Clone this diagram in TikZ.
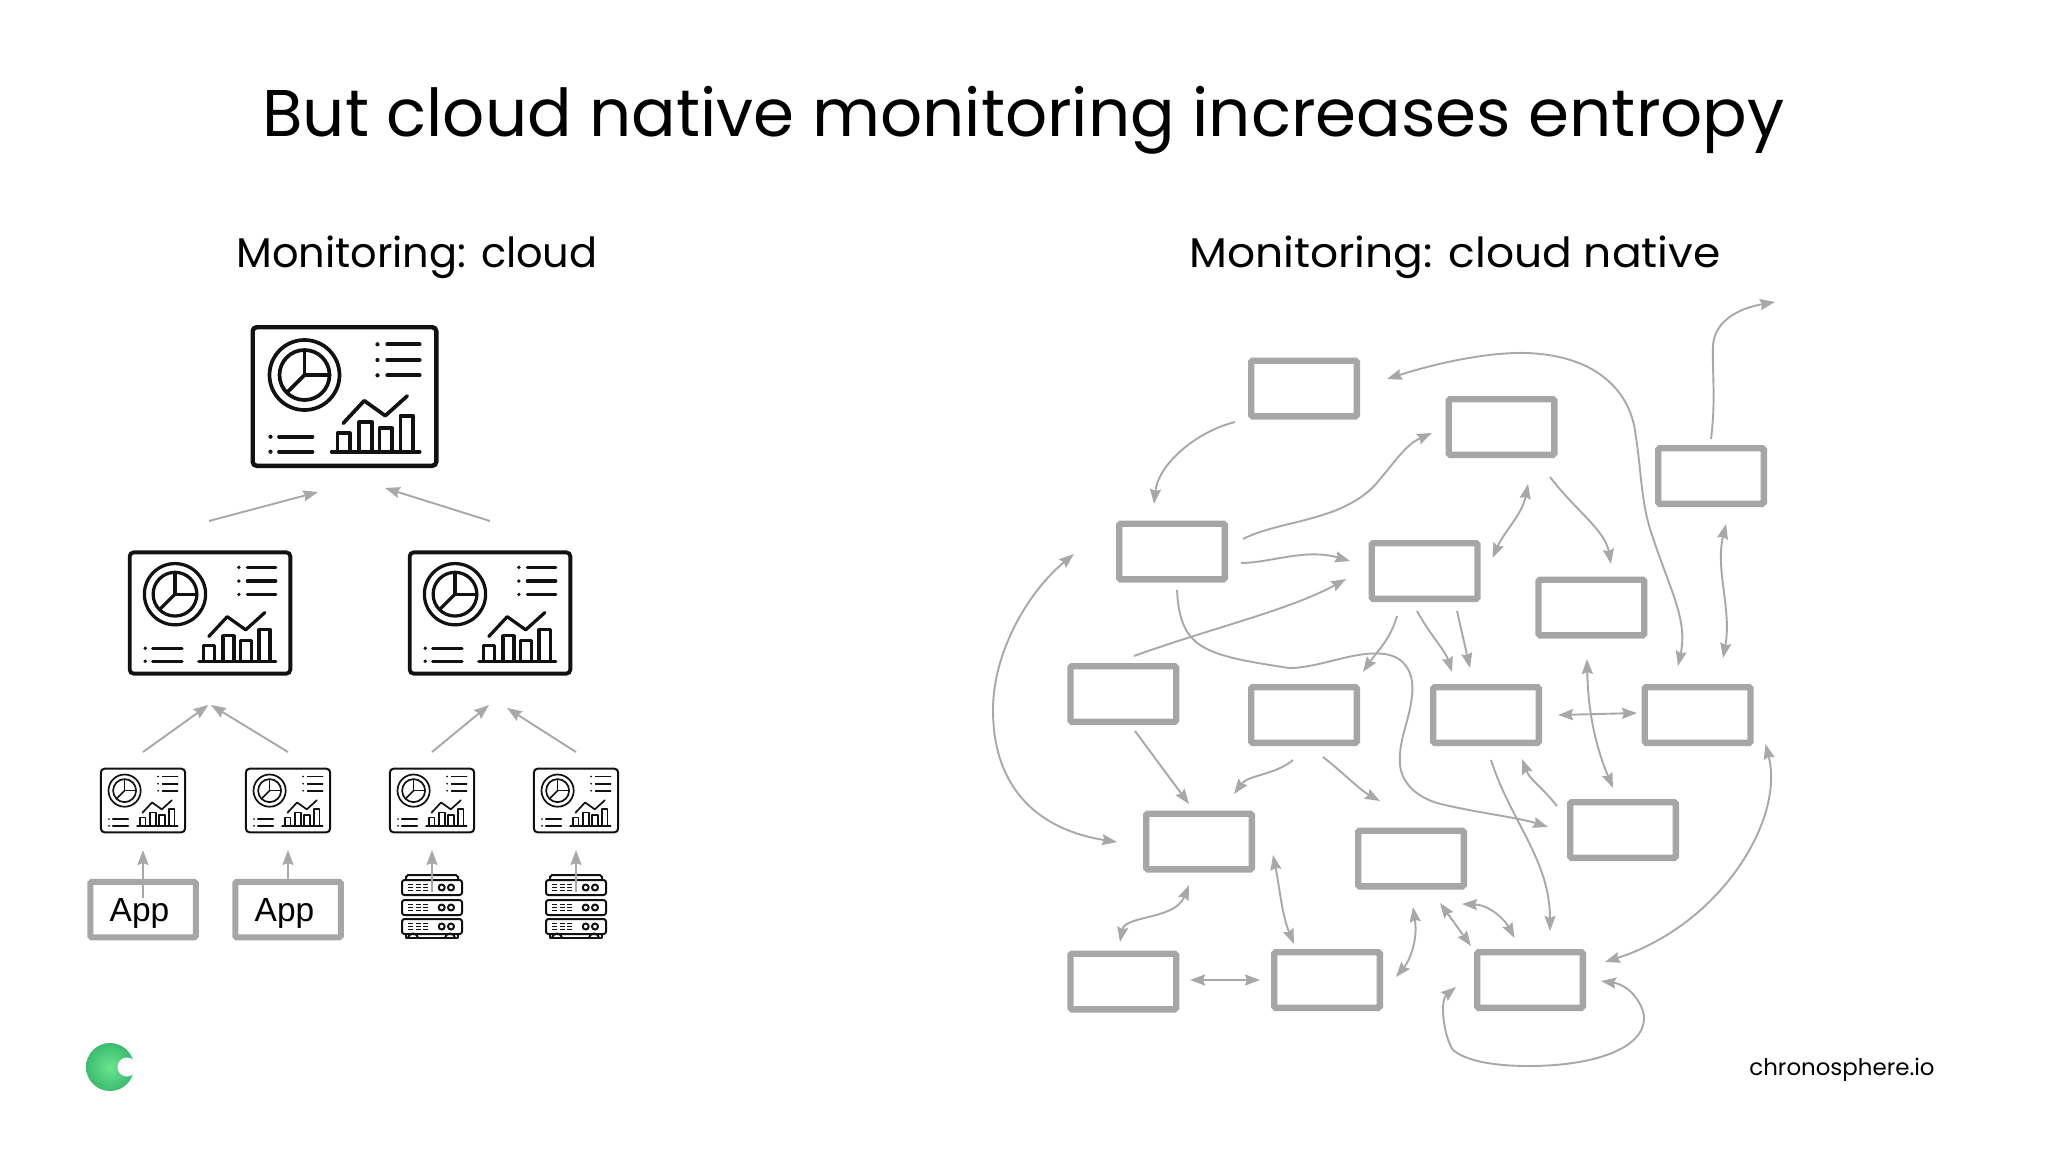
\documentclass[tikz,border=0pt]{standalone}
\usepackage{fontspec}
\setmainfont{Poppins}
\newfontfamily\appfont{Liberation Sans}
\usetikzlibrary{arrows.meta}
\definecolor{conngray}{HTML}{A8A8A8}
\definecolor{boxgray}{HTML}{A6A6A6}
\definecolor{inkblack}{HTML}{111111}
\definecolor{logoin}{HTML}{6AE48E}
\definecolor{logoout}{HTML}{3CBC70}
\tikzset{
  titletext/.style={font=\fontsize{66}{70}\selectfont,text=black,anchor=base,inner sep=0},
  subtext/.style={font=\fontsize{41.5}{44}\selectfont,text=black,anchor=base,inner sep=0},
  flowbox/.style={draw=boxgray,line width=6.3pt,minimum width=105.7pt,minimum height=55.7pt,inner sep=0,rounded corners=1.5pt},
  appbox/.style={draw=boxgray,line width=6pt,minimum width=105.5pt,minimum height=55.5pt,inner sep=0,rounded corners=1.5pt,font=\appfont\fontsize{33.5}{36}\selectfont,text height=24.4pt,text depth=0pt},
  conn/.style={draw=conngray,line width=1.9pt,-{Stealth[length=15pt,width=11pt,inset=2pt]}},
  twoway/.style={draw=conngray,line width=1.9pt,{Stealth[length=15pt,width=11pt,inset=2pt]}-{Stealth[length=15pt,width=11pt,inset=2pt]}},
  icon/.style={draw=inkblack,line cap=round,line join=round},
}
\newcommand{\dashicon}[4]{% name, x, y, scale
  \pgfmathsetmacro{\dl}{max(4.4*#4,2.0)}
  \pgfmathsetmacro{\dil}{max(3.7*#4,1.6)}
  \pgfmathsetmacro{\dw}{188*#4-\dl}
  \pgfmathsetmacro{\dh}{143*#4-\dl}
  \node[draw=inkblack,line width=\dl pt,minimum width=\dw pt,minimum height=\dh pt,inner sep=0,rounded corners=4pt] (#1) at (#2,#3) {};
  \begin{scope}[shift={(#2,#3)},scale=#4,icon,line width=\dil pt]
    \draw (-40,-21.5) circle (35);
    \draw (-40,-21.5) circle (25);
    \draw (-40,-46.5) -- (-40,-21.5) -- (-15,-21.5);
    \draw (-40,-21.5) -- (-57,-4.5);
    \foreach \yy in {-52.2,-36.5,-21.2}{
      \draw (42.7,\yy) -- (75.2,\yy);
      \fill[inkblack] (33,\yy) circle (2.1);
    }
    \foreach \yy in {40.2,55.2}{
      \draw (-65.5,\yy) -- (-32,\yy);
      \fill[inkblack] (-74,\yy) circle (2.1);
    }
    \draw (-12.8,55.2) -- (75.2,55.2);
    \draw (-7,55.2) -- (-7,36.8) -- (5.2,36.8) -- (5.2,55.2);
    \draw (14.8,55.2) -- (14.8,25.8) -- (27.5,25.8) -- (27.5,55.2);
    \draw (35,55.2) -- (35,31.8) -- (47.7,31.8) -- (47.7,55.2);
    \draw (56,55.2) -- (56,19.2) -- (68.7,19.2) -- (68.7,55.2);
    \draw (-1.3,26.8) -- (19.7,4.2) -- (40.8,19.2) -- (62.7,-0.5);
  \end{scope}
}
\newcommand{\serverrack}[3]{% name, x, y
  \node[minimum width=60pt,minimum height=68pt,inner sep=0] (#1) at (#2,#3) {};
  \begin{scope}[shift={(#2,#3)},icon,line width=2pt]
    \draw (-26,-29) -- (-26,-32) -- (-24,-34) -- (24,-34) -- (26,-32) -- (26,-29);
    \draw (-26,25) -- (-26,29) -- (26,29) -- (26,25);
    \draw (-24,29) arc[start angle=180,end angle=360,x radius=5,y radius=4.5];
    \draw (13,29) arc[start angle=180,end angle=360,x radius=5,y radius=4.5];
    \foreach \yy in {-21.5,-1.5,17.5}{
      \draw[rounded corners=2.5pt] (-30,\yy-7.5) rectangle (30,\yy+7.5);
      \draw[line width=1.4pt,line cap=butt] (-24,\yy-3.2) -- (-19,\yy-3.2) (-16.5,\yy-3.2) -- (-11.5,\yy-3.2) (-9,\yy-3.2) -- (-4,\yy-3.2);
      \draw[line width=1.4pt,line cap=butt] (-24,\yy) -- (-19,\yy) (-16.5,\yy) -- (-11.5,\yy) (-9,\yy) -- (-4,\yy);
      \draw[line width=1.4pt,line cap=butt] (-24,\yy+3.2) -- (-19,\yy+3.2) (-16.5,\yy+3.2) -- (-11.5,\yy+3.2) (-9,\yy+3.2) -- (-4,\yy+3.2);
      \draw (9.7,\yy) circle (3);
      \draw (19,\yy) circle (3);
    }
  \end{scope}
}
\begin{document}
\begin{tikzpicture}[x=1pt,y=-1pt]
\useasboundingbox (0,0) rectangle (2048,1152);
\fill[white] (0,0) rectangle (2048,1152);
% texts
\node[titletext] (title) at (1023.5,136) {But cloud native monitoring increases entropy};
\node[subtext] (subleft) at (417,267) {Monitoring: cloud};
\node[subtext] (subright) at (1455,267) {\scalebox{1.06}[1]{Monitoring: cloud native}};
\node[font=\fontsize{22.9}{26}\selectfont,anchor=base,inner sep=0] (site) at (1842,1075) {chronosphere.io};
% logo
\shade[inner color=logoin,outer color=logoout] (110,1067) circle (24);
\fill[white] (127,1067) circle (9.5);
% left monitors
\dashicon{top}{344.5}{396.5}{1}
\dashicon{midl}{210}{613}{0.875}
\dashicon{midr}{490}{613}{0.875}
\dashicon{sa}{143}{800.5}{0.46}
\dashicon{sb}{288}{800.5}{0.46}
\dashicon{sc}{432}{800.5}{0.46}
\dashicon{sd}{576}{800.5}{0.46}
\node[appbox] (appa) at (143,909.5) {\kern-7pt App};
\node[appbox] (appb) at (288,909.5) {\kern-7pt App};
\serverrack{ra}{432}{909}
\serverrack{rb}{576}{909}
% left connectors
\coordinate (la1) at (209,521); \coordinate (la2) at (318,492); \draw[conn] (la1) -- (la2);
\coordinate (lb1) at (490,521); \coordinate (lb2) at (385,488); \draw[conn] (lb1) -- (lb2);
\coordinate (lc1) at (143,752); \coordinate (lc2) at (208.5,705); \draw[conn] (lc1) -- (lc2);
\coordinate (ld1) at (288,752); \coordinate (ld2) at (211,705); \draw[conn] (ld1) -- (ld2);
\coordinate (le1) at (432,752); \coordinate (le2) at (489,705); \draw[conn] (le1) -- (le2);
\coordinate (lf1) at (576,752); \coordinate (lf2) at (507,708); \draw[conn] (lf1) -- (lf2);
\coordinate (lg1) at (143,898); \coordinate (lg2) at (143,850); \draw[conn] (lg1) -- (lg2);
\coordinate (lh1) at (288,879); \coordinate (lh2) at (288,850); \draw[conn] (lh1) -- (lh2);
\coordinate (li1) at (432,892); \coordinate (li2) at (432,850); \draw[conn] (li1) -- (li2);
\coordinate (lj1) at (576,892); \coordinate (lj2) at (576,850); \draw[conn] (lj1) -- (lj2);
% right boxes
\node[flowbox] (A) at (1304,388.5) {};
\node[flowbox] (B) at (1501.5,427) {};
\node[flowbox] (C) at (1711,476) {};
\node[flowbox] (D) at (1172,551.5) {};
\node[flowbox] (E) at (1424.6,571) {};
\node[flowbox] (F) at (1591.4,607.5) {};
\node[flowbox] (G) at (1123.3,694) {};
\node[flowbox] (H) at (1304,715) {};
\node[flowbox] (I) at (1486,715) {};
\node[flowbox] (J) at (1697.6,715) {};
\node[flowbox] (K) at (1199,841.5) {};
\node[flowbox] (L) at (1411,858.5) {};
\node[flowbox] (M) at (1623,830) {};
\node[flowbox] (N) at (1123.3,981.5) {};
\node[flowbox] (O) at (1327,980) {};
\node[flowbox] (P) at (1530,980) {};
% right connectors
\coordinate (r1a) at (1235,422); \coordinate (r1b) at (1154,504);
\draw[conn] (r1a) .. controls (1195,432) and (1158,465) .. (r1b);
\coordinate (r2a) at (1243,539); \coordinate (r2b) at (1432,433);
\draw[conn] (r2a) .. controls (1280,520) and (1340,522) .. (1375,485) .. controls (1395,462) and (1405,445) .. (r2b);
\coordinate (r3a) at (1241,563); \coordinate (r3b) at (1350,561);
\draw[conn] (r3a) .. controls (1270,563) and (1305,548) .. (r3b);
\coordinate (r4a) at (1134,656); \coordinate (r4b) at (1346,579);
\draw[conn] (r4a) .. controls (1205,630) and (1290,610) .. (r4b);
\coordinate (r5a) at (1177,590); \coordinate (r5b) at (1548,827);
\draw[conn] (r5a) .. controls (1180,650) and (1205,655) .. (1289,668) .. controls (1320,668) and (1355,650) .. (1385,654) .. controls (1410,658) and (1414,680) .. (1412,695) .. controls (1410,720) and (1398,740) .. (1400,765) .. controls (1402,785) and (1420,800) .. (1445,805) .. controls (1480,813) and (1520,818) .. (r5b);
\coordinate (r6a) at (1387,379); \coordinate (r6b) at (1678,666);
\draw[twoway] (r6a) .. controls (1440,362) and (1490,352) .. (1526,353) .. controls (1590,355) and (1625,385) .. (1634,425) .. controls (1642,470) and (1640,500) .. (1652,535) .. controls (1670,590) and (1688,620) .. (r6b);
\coordinate (r7a) at (1711,439); \coordinate (r7b) at (1775,302);
\draw[conn] (r7a) .. controls (1716,400) and (1712,370) .. (1713,345) .. controls (1715,320) and (1740,308) .. (r7b);
\coordinate (r8a) at (1726,524); \coordinate (r8b) at (1723,658);
\draw[twoway] (r8a) .. controls (1715,570) and (1732,610) .. (r8b);
\coordinate (r9a) at (1528,484); \coordinate (r9b) at (1492.5,558);
\draw[twoway] (r9a) .. controls (1522,515) and (1505,530) .. (r9b);
\coordinate (r10a) at (1550,477); \coordinate (r10b) at (1611,564);
\draw[conn] (r10a) .. controls (1575,510) and (1605,530) .. (r10b);
\coordinate (r11a) at (1397,616); \coordinate (r11b) at (1363,672);
\draw[conn] (r11a) .. controls (1390,640) and (1378,650) .. (r11b);
\coordinate (r12a) at (1417,611); \coordinate (r12b) at (1452,672);
\draw[conn] (r12a) .. controls (1430,635) and (1445,650) .. (r12b);
\coordinate (r13a) at (1457,611); \coordinate (r13b) at (1470,668);
\draw[conn] (r13a) -- (r13b);
\coordinate (r14a) at (1558,715); \coordinate (r14b) at (1637,713);
\draw[twoway] (r14a) -- (r14b);
\coordinate (r15a) at (1587,659); \coordinate (r15b) at (1613,788);
\draw[twoway] (r15a) .. controls (1588,710) and (1595,745) .. (r15b);
\coordinate (r16a) at (1135,731); \coordinate (r16b) at (1189,804);
\draw[conn] (r16a) -- (r16b);
\coordinate (r17a) at (1293,760); \coordinate (r17b) at (1234,794);
\draw[conn] (r17a) .. controls (1275,775) and (1248,775) .. (r17b);
\coordinate (r18a) at (1323,757); \coordinate (r18b) at (1380,801);
\draw[conn] (r18a) .. controls (1340,770) and (1360,790) .. (r18b);
\coordinate (r19a) at (1074,554); \coordinate (r19b) at (1117,842);
\draw[twoway] (r19a) .. controls (1030,590) and (993,650) .. (993,710) .. controls (993,790) and (1040,830) .. (r19b);
\coordinate (r20a) at (1491,760); \coordinate (r20b) at (1550,931);
\draw[conn] (r20a) .. controls (1510,820) and (1550,860) .. (r20b);
\coordinate (r21a) at (1557,806); \coordinate (r21b) at (1522,759);
\draw[conn] (r21a) .. controls (1540,785) and (1530,780) .. (r21b);
\coordinate (r22a) at (1765.5,744); \coordinate (r22b) at (1605,962);
\draw[twoway] (r22a) .. controls (1785,820) and (1720,925) .. (r22b);
\coordinate (r23a) at (1189,885); \coordinate (r23b) at (1120,942);
\draw[twoway] (r23a) .. controls (1175,920) and (1125,915) .. (r23b);
\coordinate (r24a) at (1273,855); \coordinate (r24b) at (1294,944);
\draw[twoway] (r24a) .. controls (1280,890) and (1282,915) .. (r24b);
\coordinate (r25a) at (1190,980); \coordinate (r25b) at (1260,980);
\draw[twoway] (r25a) -- (r25b);
\coordinate (r26a) at (1413,907); \coordinate (r26b) at (1396,977);
\draw[twoway] (r26a) .. controls (1418,940) and (1410,960) .. (r26b);
\coordinate (r27a) at (1440,903); \coordinate (r27b) at (1471,946);
\draw[twoway] (r27a) -- (r27b);
\coordinate (r28a) at (1462,904); \coordinate (r28b) at (1514.5,938);
\draw[twoway] (r28a) .. controls (1490,905) and (1505,920) .. (r28b);
\coordinate (r29a) at (1601,981); \coordinate (r29b) at (1456,987);
\draw[twoway] (r29a) .. controls (1630,985) and (1644,1005) .. (1644,1018) .. controls (1644,1050) and (1590,1066) .. (1529,1066) .. controls (1490,1066) and (1465,1060) .. (1453,1050) .. controls (1443,1035) and (1440,1000) .. (r29b);
\end{tikzpicture}
\end{document}
